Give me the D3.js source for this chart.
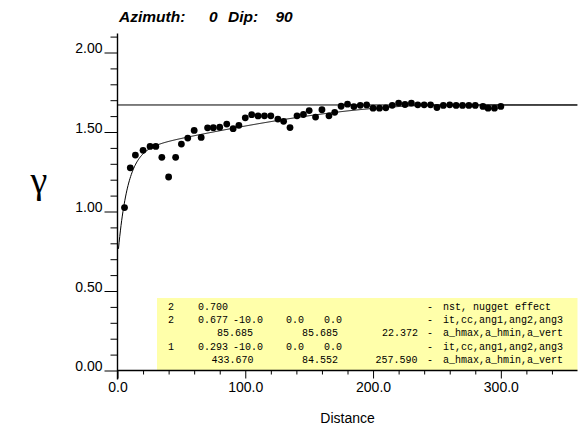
<!DOCTYPE html>
<html>
<head>
<meta charset="utf-8">
<script src="https://cdn.jsdelivr.net/npm/d3@7/dist/d3.min.js"></script>
<style>
  body { margin: 0; background: #fff; }
  svg { display: block; }
</style>
</head>
<body>
<svg id="chart"></svg>
<script>
// experimental variogram points (lag distance, gamma)
const lagDist = [5.5, 10, 14, 20, 25.5, 30, 34.7, 40, 45.5, 50, 55, 60, 65.5, 70.5, 75, 80, 85.5, 90.5, 95, 100,
    105, 110, 115, 120, 125.5, 130, 135, 140.5, 145.5, 150, 155, 160, 165.5, 170, 175, 180, 185, 190, 195, 200,
    205, 210, 215, 220, 225, 230, 235, 240, 245, 250, 255, 260, 265, 270, 275, 280, 286, 290, 295, 300];
const lagGamma = [1.025, 1.275, 1.355, 1.385, 1.409, 1.409, 1.341, 1.217, 1.341, 1.424, 1.462, 1.51, 1.466, 1.526, 1.527, 1.53, 1.55, 1.521, 1.542, 1.589,
    1.609, 1.601, 1.602, 1.602, 1.581, 1.567, 1.528, 1.602, 1.61, 1.635, 1.594, 1.64, 1.602, 1.624, 1.662, 1.675, 1.66, 1.668, 1.67, 1.65,
    1.65, 1.652, 1.668, 1.682, 1.673, 1.682, 1.671, 1.671, 1.671, 1.654, 1.667, 1.671, 1.667, 1.667, 1.667, 1.667, 1.661, 1.65, 1.65, 1.661];

// variogram model parameters (GSLIB style)
const nugget = 0.700;
const structType = [2, 1];          // 2 = exponential, 1 = spherical
const structCC = [0.677, 0.293];
const structDip = [-10.0, -10.0];
const structHmax = [85.685, 433.670];
const structVert = [22.372, 257.590];

// axis ticks
const xMajor = [0, 100, 200, 300];
const xMinor = [20, 40, 60, 80, 120, 140, 160, 180, 220, 240, 260, 280, 320, 340];
const yMajor = [0, 0.5, 1.0, 1.5, 2.0];
const yMinor = [0.1, 0.2, 0.3, 0.4, 0.6, 0.7, 0.8, 0.9, 1.1, 1.2, 1.3, 1.4, 1.6, 1.7, 1.8, 1.9, 2.1];

// title pieces: [text, x]
const titleParts = [["Azimuth:", 119], ["0", 209], ["Dip:", 228], ["90", 275.5]];

// parameter box text rows: [text, x]
const boxRows = [
    [["2", 168], ["0.700", 198], ["-", 427], ["nst, nugget effect", 443]],
    [["2", 168], ["0.677", 198], ["-10.0", 233], ["0.0", 286], ["0.0", 324], ["-", 427], ["it,cc,ang1,ang2,ang3", 443]],
    [["85.685", 217], ["85.685", 302], ["22.372", 382], ["-", 427], ["a_hmax,a_hmin,a_vert", 443]],
    [["1", 168], ["0.293", 198], ["-10.0", 233], ["0.0", 286], ["0.0", 324], ["-", 427], ["it,cc,ang1,ang2,ang3", 443]],
    [["433.670", 211.5], ["84.552", 302], ["257.590", 375.5], ["-", 427], ["a_hmax,a_hmin,a_vert", 443]]
];

const W = 584, H = 427;
const sans = "Arial, 'Liberation Sans', Helvetica, sans-serif";
const mono = "'Courier New', 'Liberation Mono', monospace";

const svg = d3.select("#chart").attr("width", W).attr("height", H);

const x = d3.scaleLinear().domain([0, 360]).range([117.5, 577.5]);
const y = d3.scaleLinear().domain([0, 2]).range([370.5, 52.5]);

// effective range along vertical direction for a tilted ellipsoid
const effRange = i => {
    const dip = structDip[i] * Math.PI / 180;
    return 1 / Math.sqrt(Math.pow(Math.sin(dip) / structHmax[i], 2) + Math.pow(Math.cos(dip) / structVert[i], 2));
};
const model = h => {
    let g = nugget;
    structType.forEach((t, i) => {
        const a = effRange(i), r = h / a;
        if (t === 2) g += structCC[i] * (1 - Math.exp(-3 * r));
        else g += structCC[i] * (r < 1 ? 1.5 * r - 0.5 * r * r * r : 1);
    });
    return g;
};
const sill = nugget + d3.sum(structCC);

// parameter box
svg.append("rect")
    .attr("x", 157).attr("y", 298)
    .attr("width", x(360) - 157).attr("height", y(0) - 298)
    .attr("fill", "#ffffaa");

const boxG = svg.append("g")
    .style("font-family", mono)
    .style("font-size", "10px")
    .attr("fill", "#000");
boxRows.forEach((row, i) => {
    row.forEach(([t, px]) => {
        boxG.append("text")
            .attr("x", px)
            .attr("y", 309.5 + i * 13.4)
            .text(t);
    });
});

// sill line
svg.append("line")
    .attr("x1", x(0)).attr("x2", x(360))
    .attr("y1", y(sill)).attr("y2", y(sill))
    .attr("stroke", "#000").attr("stroke-width", 1);

// model curve
const hs = d3.range(0.75, 360, 0.5);
svg.append("path")
    .datum(hs)
    .attr("fill", "none")
    .attr("stroke", "#000")
    .attr("stroke-width", 1)
    .attr("d", d3.line().x(h => x(h)).y(h => y(model(h))));

// points
svg.selectAll(".pt")
    .data(lagDist.map((d, i) => ({ d, g: lagGamma[i] })))
    .enter().append("circle")
    .attr("class", "pt")
    .attr("cx", p => x(p.d))
    .attr("cy", p => y(p.g))
    .attr("r", 3.4)
    .attr("fill", "#000");

// axes
const gy = svg.append("g").attr("transform", `translate(${x(0)},0)`);
gy.call(d3.axisLeft(y).tickValues(yMajor).tickSize(13).tickPadding(2).tickFormat(d3.format(".2f")));
gy.append("g").call(d3.axisLeft(y).tickValues(yMinor).tickSize(7).tickFormat(""));
gy.selectAll(".domain").remove();
gy.selectAll("text")
    .attr("dy", "0")
    .style("font-family", sans)
    .style("font-size", "14px")
    .attr("fill", "#000");
gy.selectAll("line").attr("stroke", "#000");
gy.append("line")
    .attr("x1", 0).attr("x2", 0)
    .attr("y1", y(2.12)).attr("y2", y(0) + 9)
    .attr("stroke", "#000").attr("stroke-width", 1.4);

const gx = svg.append("g").attr("transform", `translate(0,${y(0)})`);
gx.call(d3.axisBottom(x).tickValues(xMajor).tickSize(8).tickPadding(4).tickFormat(d3.format(".1f")));
gx.append("g").call(d3.axisBottom(x).tickValues(xMinor).tickSize(4).tickFormat(""));
gx.selectAll(".domain").remove();
gx.selectAll("text")
    .style("font-family", sans)
    .style("font-size", "14px")
    .attr("fill", "#000");
gx.selectAll("line").attr("stroke", "#000");
gx.append("line")
    .attr("x1", x(0)).attr("x2", x(360))
    .attr("y1", 0).attr("y2", 0)
    .attr("stroke", "#000").attr("stroke-width", 1.4);

// titles
svg.append("g")
    .style("font-family", sans)
    .style("font-size", "15.5px")
    .style("font-weight", "bold")
    .style("font-style", "italic")
    .selectAll("text")
    .data(titleParts)
    .enter().append("text")
    .attr("x", d => d[1]).attr("y", 21.5)
    .text(d => d[0]);

svg.append("text")
    .attr("x", 347.5).attr("y", 423)
    .attr("text-anchor", "middle")
    .style("font-family", sans)
    .style("font-size", "14px")
    .text("Distance");

svg.append("text")
    .attr("x", 39).attr("y", 193)
    .attr("text-anchor", "middle")
    .style("font-family", "'Times New Roman', 'Liberation Serif', serif")
    .style("font-size", "38px")
    .text("γ");
</script>
</body>
</html>
